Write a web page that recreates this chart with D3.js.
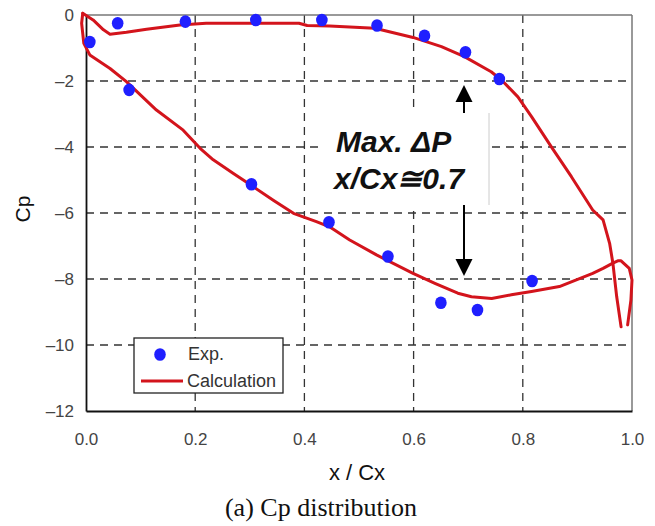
<!DOCTYPE html>
<html><head><meta charset="utf-8">
<script src="https://cdn.jsdelivr.net/npm/d3@7"></script>
<style>body{margin:0;background:#fff}svg{display:block}</style>
</head><body>
<script>
// ---- data ----
const xTicks = [0, 0.2, 0.4, 0.6, 0.8, 1.0];
const yTicks = [0, -2, -4, -6, -8, -10, -12];
const expX  = [0.007,0.058,0.182,0.311,0.432,0.533,0.620,0.695,0.757,0.079,0.303,0.445,0.553,0.650,0.717,0.817];
const expCp = [-0.82,-0.25,-0.20,-0.15,-0.15,-0.32,-0.63,-1.13,-1.94,-2.27,-5.13,-6.28,-7.32,-8.72,-8.94,-8.06];
const calcPsX  = [-0.006,0.013,0.032,0.044,0.074,0.111,0.172,0.22,0.39,0.405,0.446,0.529,0.599,0.651,0.693,0.742,0.761,0.791,0.816,0.852,0.889,0.928,0.947,0.959,0.965,0.972,0.980];
const calcPsCp = [0.05,-0.15,-0.45,-0.58,-0.52,-0.43,-0.30,-0.25,-0.25,-0.32,-0.33,-0.40,-0.68,-0.96,-1.26,-1.72,-1.97,-2.48,-3.08,-3.99,-4.9,-5.91,-6.21,-6.92,-7.52,-8.54,-9.45];
const calcSsX  = [-0.006,-0.008,-0.004,0.007,0.044,0.074,0.129,0.178,0.209,0.233,0.27,0.306,0.343,0.38,0.422,0.446,0.483,0.532,0.599,0.639,0.681,0.706,0.743,0.779,0.816,0.867,0.928,0.947,0.965,0.974,0.980,0.995,1.0,0.998,0.992];
const calcSsCp = [0.05,-0.25,-0.86,-1.21,-1.62,-2.02,-2.88,-3.49,-4.04,-4.39,-4.8,-5.2,-5.61,-6.01,-6.26,-6.42,-6.82,-7.27,-7.83,-8.13,-8.43,-8.54,-8.59,-8.48,-8.38,-8.23,-7.83,-7.68,-7.52,-7.45,-7.45,-7.68,-8.03,-8.64,-9.39];

const W = 655, H = 526;
const L = 86, R = 632, T = 15, B = 411;
const RED = "#d3141c", BLUE = "#1f1fff";
const sans = "'Liberation Sans', Arial, sans-serif";

const svg = d3.select("body").append("svg").attr("width", W).attr("height", H);
const x = d3.scaleLinear().domain([0, 1]).range([L, R]);
const y = d3.scaleLinear().domain([0, -12]).range([T, B]);

// grid
const grid = svg.append("g").attr("stroke", "#333").attr("stroke-width", 1.3).attr("stroke-dasharray", "8,6");
grid.selectAll("line.h").data(yTicks.filter(v => v < 0 && v > -12)).join("line")
  .attr("x1", L).attr("x2", R).attr("y1", d => y(d)).attr("y2", d => y(d));
grid.selectAll("line.v").data(xTicks.filter(v => v > 0 && v < 1)).join("line")
  .attr("y1", T).attr("y2", B).attr("x1", d => x(d)).attr("x2", d => x(d));

// frame
svg.append("line").attr("x1", L).attr("x2", R).attr("y1", T).attr("y2", T).attr("stroke", "#777").attr("stroke-width", 1.5);
svg.append("line").attr("x1", R).attr("x2", R).attr("y1", T).attr("y2", B).attr("stroke", "#777").attr("stroke-width", 1.5);

// axes
const ax = svg.append("g").attr("transform", `translate(0,${B})`)
  .call(d3.axisBottom(x).tickValues(xTicks).tickFormat(d3.format(".1f")).tickSize(0).tickPadding(22));
const ay = svg.append("g").attr("transform", `translate(${L},0)`)
  .call(d3.axisLeft(y).tickValues(yTicks).tickFormat(d => d === 0 ? "0" : "\u2013" + Math.abs(d)).tickSize(0).tickPadding(12));
[ax, ay].forEach(g => {
  g.select(".domain").attr("stroke", "#111").attr("stroke-width", 1.8);
  g.selectAll("text").attr("font-family", sans).attr("font-size", 17).attr("fill", "#444");
});

// annotation box
svg.append("rect").attr("x", 321).attr("y", 113).attr("width", 168).attr("height", 92).attr("fill", "#fff");
svg.append("line").attr("x1", 489).attr("x2", 489).attr("y1", 113).attr("y2", 205).attr("stroke", "#ccc").attr("stroke-width", 1);

// curves
const line = d3.line().x(d => x(d[0])).y(d => y(d[1]));
svg.append("path").datum(calcPsX.map((v, i) => [v, calcPsCp[i]])).attr("d", line)
  .attr("fill", "none").attr("stroke", RED).attr("stroke-width", 3).attr("stroke-linejoin", "round").attr("stroke-linecap", "round");
svg.append("path").datum(calcSsX.map((v, i) => [v, calcSsCp[i]])).attr("d", line)
  .attr("fill", "none").attr("stroke", RED).attr("stroke-width", 3).attr("stroke-linejoin", "round").attr("stroke-linecap", "round");

// exp points
svg.selectAll("ellipse.exp").data(expX.map((v, i) => [v, expCp[i]])).join("ellipse")
  .attr("cx", d => x(d[0])).attr("cy", d => y(d[1])).attr("rx", 5.8).attr("ry", 6.3).attr("fill", BLUE);

// arrows
const ann = svg.append("g");
ann.append("line").attr("x1", 464).attr("x2", 464).attr("y1", 113).attr("y2", 100).attr("stroke", "#000").attr("stroke-width", 2);
ann.append("path").attr("d", "M464,85 L455.5,102 L472.5,102 Z").attr("fill", "#000");
ann.append("line").attr("x1", 464).attr("x2", 464).attr("y1", 205).attr("y2", 262).attr("stroke", "#000").attr("stroke-width", 2);
ann.append("path").attr("d", "M464,276 L455.5,259 L472.5,259 Z").attr("fill", "#000");
ann.append("text").attr("x", 336).attr("y", 152).text("Max. \u0394P")
  .attr("font-family", sans).attr("font-size", 30).attr("font-weight", "bold").attr("font-style", "italic").attr("fill", "#111");
ann.append("text").attr("x", 334).attr("y", 189).text("x/Cx\u22450.7")
  .attr("font-family", sans).attr("font-size", 30).attr("font-weight", "bold").attr("font-style", "italic").attr("fill", "#111");

// legend
const lg = svg.append("g");
lg.append("rect").attr("x", 134).attr("y", 338).attr("width", 149).attr("height", 55).attr("fill", "#fff").attr("stroke", "#222").attr("stroke-width", 1.3);
lg.append("ellipse").attr("cx", 160).attr("cy", 354.5).attr("rx", 5.8).attr("ry", 6.3).attr("fill", BLUE);
lg.append("line").attr("x1", 141).attr("x2", 183).attr("y1", 381).attr("y2", 381).attr("stroke", RED).attr("stroke-width", 3);
lg.append("text").attr("x", 188).attr("y", 360).text("Exp.").attr("font-family", sans).attr("font-size", 18).attr("fill", "#333");
lg.append("text").attr("x", 187).attr("y", 387).text("Calculation").attr("font-family", sans).attr("font-size", 18).attr("fill", "#333");

// titles
svg.append("text").attr("x", 357).attr("y", 480).attr("text-anchor", "middle").text("x / Cx")
  .attr("font-family", sans).attr("font-size", 22).attr("fill", "#111");
svg.append("text").attr("transform", "translate(30,209) rotate(-90)").attr("text-anchor", "middle").text("Cp")
  .attr("font-family", sans).attr("font-size", 21).attr("fill", "#111");
svg.append("text").attr("x", 321).attr("y", 516).attr("text-anchor", "middle").text("(a) Cp distribution")
  .attr("font-family", "'Liberation Serif', 'Times New Roman', serif").attr("font-size", 26).attr("fill", "#111");
</script>
</body></html>
